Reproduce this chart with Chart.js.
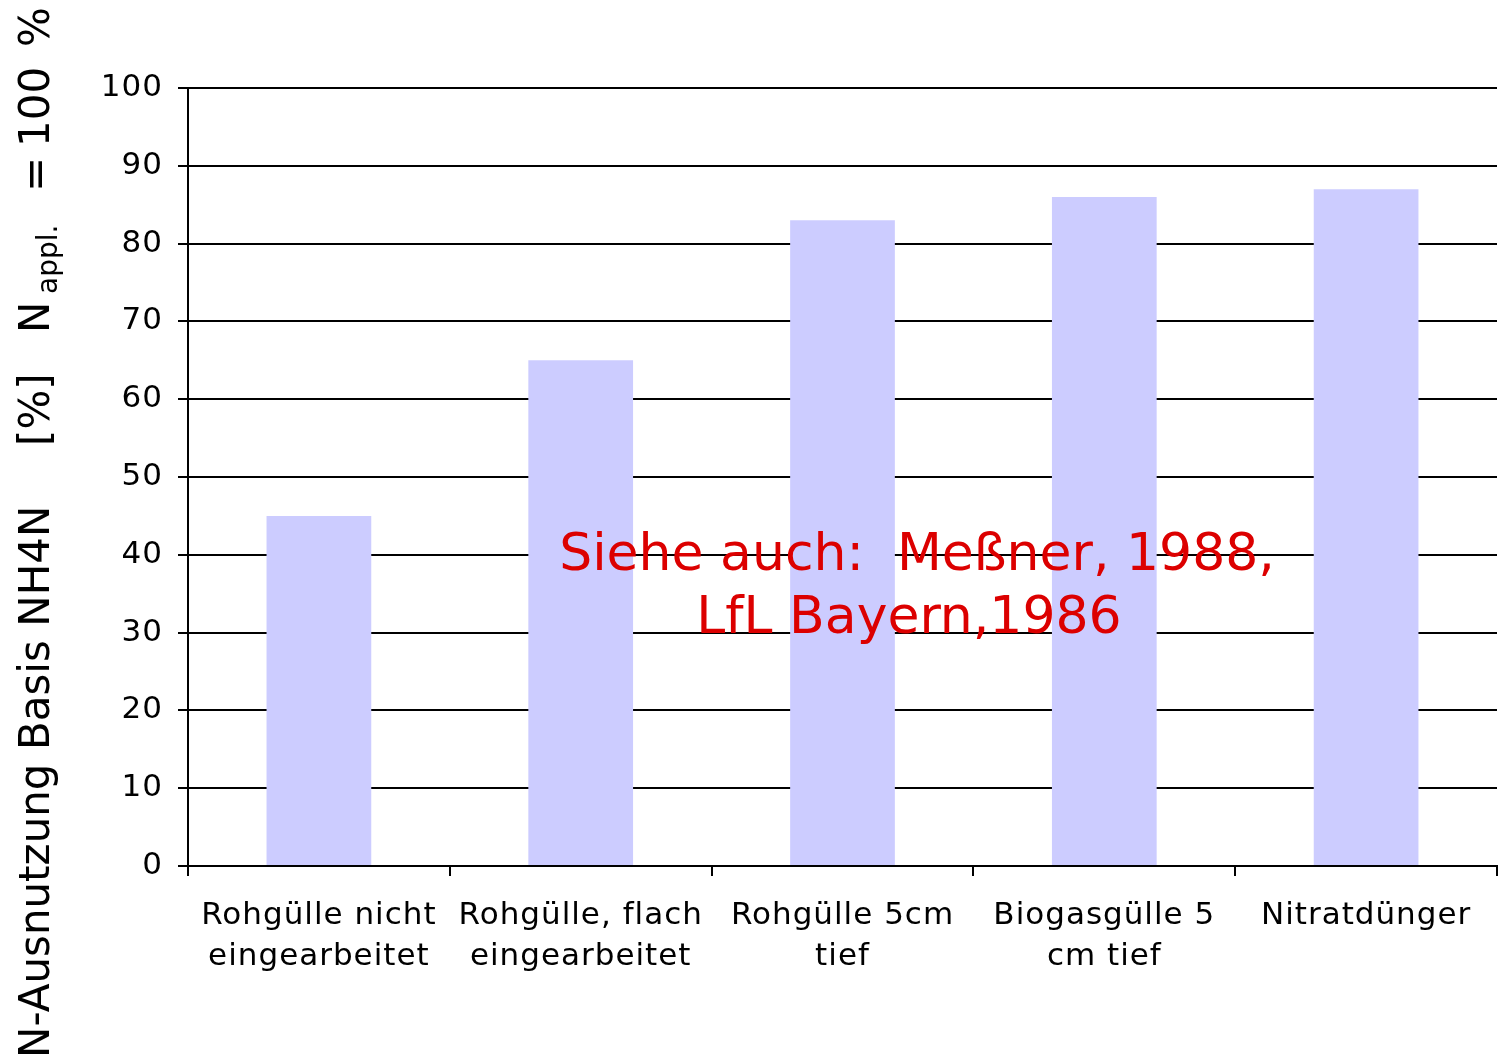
<!DOCTYPE html>
<html>
<head>
<meta charset="utf-8">
<script src="https://cdn.jsdelivr.net/npm/chart.js@4.4.1/dist/chart.umd.min.js"></script>
<style>
  html, body { margin: 0; padding: 0; background: #fff; }
  #wrap { width: 1508px; height: 1060px; position: relative; }
</style>
</head>
<body>
<div id="wrap"><canvas id="chart"></canvas></div>
<script>
// N-Ausnutzung nach Ausbringungsart (Balken, eine Reihe)
const categories = [
	['Rohgülle nicht', 'eingearbeitet'],
	['Rohgülle, flach', 'eingearbeitet'],
	['Rohgülle 5cm', 'tief'],
	['Biogasgülle 5', 'cm tief'],
	['Nitratdünger'],
];
const utilisation = [45, 65, 83, 86, 87];
const yMin = 0, yMax = 100, yStep = 10;

const noteLines = ['Siehe auch:  Meßner, 1988,', 'LfL Bayern,1986'];
// y-axis title, read bottom to top; sub = subscript piece
const titleParts = [
	{ text: 'N-Ausnutzung Basis NH4N', at: 1058 },
	{ text: '[%]', at: 446 },
	{ text: 'N', at: 333 },
	{ text: 'appl.', at: 294, sub: true },
	{ text: '=', at: 192 },
	{ text: '100', at: 147 },
	{ text: '%', at: 47 },
];

const FONT = '"DejaVu Sans", Verdana, sans-serif';
const BAR = '#ccccff';
const NOTE = '#dc0000';

const decorPlugin = {
	id: 'decor',
	beforeDraw(chart) { chart.ctx.letterSpacing = '1px'; },
	afterDraw(chart) {
		const ctx = chart.ctx;
		ctx.save();
		ctx.letterSpacing = '0px';
		ctx.fillStyle = '#000';
		ctx.textAlign = 'left';
		ctx.textBaseline = 'alphabetic';
		for (const p of titleParts) {
			ctx.save();
			ctx.translate(p.sub ? 57 : 49, p.at);
			ctx.rotate(-Math.PI / 2);
			ctx.font = (p.sub ? '28px ' : '42px ') + FONT;
			ctx.fillText(p.text, 0, 0);
			ctx.restore();
		}
		// red note over the plot
		ctx.fillStyle = NOTE;
		ctx.font = '52px ' + FONT;
		ctx.textAlign = 'center';
		ctx.fillText(noteLines[0], 917, 570);
		ctx.fillText(noteLines[1], 909, 633);
		ctx.restore();
	},
};

new Chart(document.getElementById('chart'), {
	type: 'bar',
	data: {
		labels: categories,
		datasets: [{
			data: utilisation,
			backgroundColor: BAR,
			borderWidth: 0,
			barPercentage: 0.4,
			categoryPercentage: 1.0,
		}],
	},
	options: {
		responsive: true,
		maintainAspectRatio: false,
		animation: false,
		devicePixelRatio: 1,
		layout: { padding: { left: 0, right: 11, top: 88, bottom: 0 } },
		plugins: {
			legend: { display: false },
			tooltip: { enabled: false },
		},
		scales: {
			x: {
				offset: true,
				afterFit(s) { s.height = 194; },
				grid: { drawOnChartArea: false, drawTicks: true, tickLength: 10, color: '#000', lineWidth: 2, offset: true },
				border: { color: '#000', width: 2 },
				ticks: {
					color: '#000', font: { family: FONT, size: 31, lineHeight: 1.33 },
					padding: 19, maxRotation: 0, autoSkip: false,
				},
			},
			y: {
				min: yMin, max: yMax,
				afterFit(s) { s.width = 188; },
				grid: { color: '#000', lineWidth: 2, tickLength: 10 },
				border: { color: '#000', width: 2 },
				ticks: { stepSize: yStep, color: '#000', font: { family: FONT, size: 31 }, padding: 15 },
			},
		},
	},
	plugins: [decorPlugin],
});
</script>
</body>
</html>
